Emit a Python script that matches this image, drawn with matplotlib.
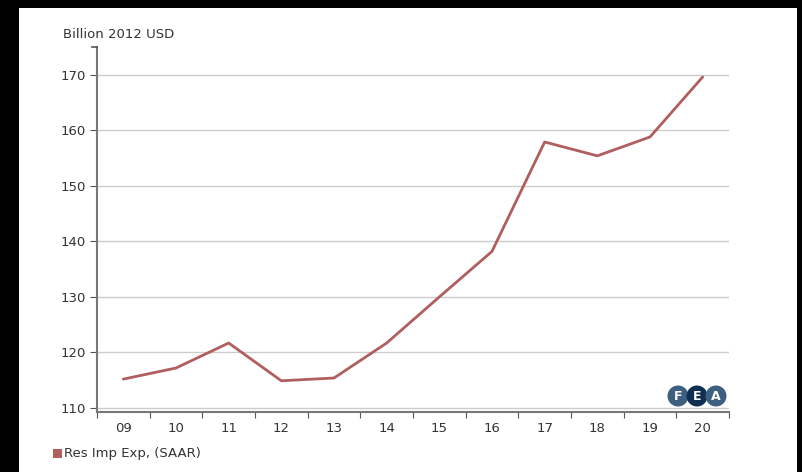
import matplotlib.pyplot as plt
from matplotlib.patches import Rectangle, Ellipse
from matplotlib.lines import Line2D

# data
years = ["09", "10", "11", "12", "13", "14", "15", "16", "17", "18", "19", "20"]
values = [115.2, 117.2, 121.7, 114.9, 115.4, 121.7, 130.0, 138.2, 157.9, 155.4, 158.8, 169.6]
y_ticks = [110, 120, 130, 140, 150, 160, 170]

W, H = 802, 472
fig = plt.figure(figsize=(W / 100, H / 100), dpi=100, facecolor="black")
# white panel inside the black frame
fig.patches.append(Rectangle((19 / W, 0), (797 - 19) / W, (H - 8) / H,
                             transform=fig.transFigure, facecolor="white",
                             edgecolor="none", zorder=-5))

ax = fig.add_axes([97 / W, (H - 412) / H, (729 - 97) / W, (412 - 47) / H])
ax.set_facecolor("none")

x = list(range(len(years)))
ax.plot(x, values, color="#b05e5e", linewidth=2, zorder=3, solid_capstyle="round")

ax.set_xlim(-0.5, len(years) - 0.5)
ax.set_ylim(109.28, 175)

for v in y_ticks:
    ax.axhline(v, color="#cccccc", linewidth=1, zorder=1)

ax.set_yticks(y_ticks)
ax.set_yticklabels([str(v) for v in y_ticks])
ax.set_xticks([i - 0.5 for i in range(len(years) + 1)])
ax.set_xticklabels([])
ax.set_xticks(x, minor=True)
ax.set_xticklabels(years, minor=True)

ax.tick_params(axis="x", which="major", length=4, color="#555555", direction="out")
ax.tick_params(axis="x", which="minor", length=0, pad=7, labelsize=9.5, labelcolor="#333333")
ax.tick_params(axis="y", length=5, color="#555555", pad=3, labelsize=9.5, labelcolor="#333333")

for s in ["top", "right"]:
    ax.spines[s].set_visible(False)
for s in ["left", "bottom"]:
    ax.spines[s].set_color("#777777")
    ax.spines[s].set_linewidth(1.5)

# small end tick at the top of the y axis
fig.lines.append(Line2D([92 / W, 97 / W], [(H - 47) / H, (H - 47) / H],
                        transform=fig.transFigure, color="#555555", linewidth=1.2))

fig.text(63 / W, (H - 35) / H, "Billion 2012 USD", fontsize=9.5, color="#333333",
         va="center", ha="left")

# legend
fig.patches.append(Rectangle((53 / W, (H - 458) / H), 9 / W, 9 / H,
                             transform=fig.transFigure, facecolor="#b05e5e",
                             edgecolor="none"))
fig.text(64 / W, (H - 454) / H, "Res Imp Exp, (SAAR)", fontsize=9.5, color="#333333",
         va="center", ha="left")

# FEA logo
for cx, letter, col in [(678, "F", "#3d5f80"), (697, "E", "#0f2f52"), (716, "A", "#3d5f80")]:
    fig.patches.append(Ellipse((cx / W, (H - 396) / H), 21 / W, 21 / H,
                               transform=fig.transFigure, facecolor=col,
                               edgecolor="none", zorder=5))
for cx, letter in [(678, "F"), (697, "E"), (716, "A")]:
    fig.text(cx / W, (H - 396) / H, letter, color="white", fontsize=9,
             fontweight="bold", ha="center", va="center", zorder=6)

fig.savefig("out.png", dpi=100, facecolor=fig.get_facecolor())
